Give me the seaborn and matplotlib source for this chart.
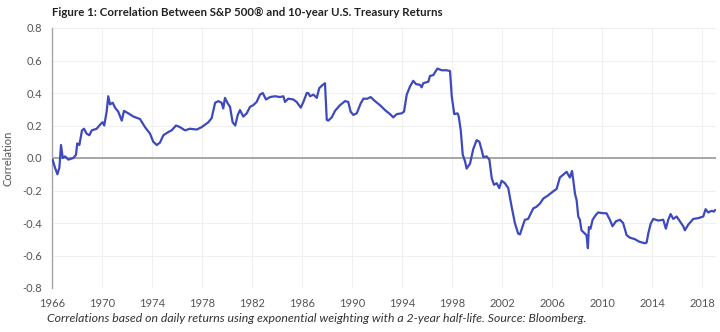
import matplotlib
matplotlib.use("Agg")
import matplotlib.pyplot as plt
import seaborn as sns
import numpy as np
import pandas as pd

years = [1966.05, 1966.24, 1966.43, 1966.59, 1966.72, 1966.86, 1967.04, 1967.31, 1967.70, 1967.92,
         1968.02, 1968.19, 1968.40, 1968.56, 1968.77, 1968.99, 1969.18, 1969.57, 1969.90, 1970.05,
         1970.18, 1970.37, 1970.50, 1970.64, 1970.86, 1971.04, 1971.30, 1971.58, 1971.76, 1972.10,
         1972.51, 1973.04, 1973.44, 1973.84, 1974.10, 1974.38, 1974.64, 1974.91, 1975.31, 1975.57,
         1975.92, 1976.24, 1976.64, 1977.03, 1977.58, 1977.97, 1978.51, 1978.77, 1979.05, 1979.31,
         1979.57, 1979.70, 1979.84, 1980.03, 1980.24, 1980.45, 1980.66, 1980.86, 1981.04, 1981.30,
         1981.58, 1981.84, 1982.10, 1982.37, 1982.64, 1982.86, 1983.12, 1983.44, 1983.84, 1984.24,
         1984.51, 1984.64, 1984.90, 1985.31, 1985.57, 1985.90, 1986.11, 1986.38, 1986.50, 1986.65,
         1986.91, 1987.18, 1987.38, 1987.66, 1987.84, 1987.98, 1988.10, 1988.38, 1988.64, 1989.04,
         1989.44, 1989.70, 1989.89, 1990.11, 1990.38, 1990.69, 1990.91, 1991.23, 1991.49, 1991.84,
         1992.24, 1992.64, 1993.04, 1993.30, 1993.58, 1993.97, 1994.16, 1994.38, 1994.64, 1994.90,
         1995.12, 1995.44, 1995.57, 1995.70, 1996.11, 1996.24, 1996.50, 1996.83, 1997.18, 1997.57,
         1997.84, 1997.98, 1998.18, 1998.44, 1998.54, 1998.70, 1998.86, 1999.04, 1999.17, 1999.44,
         1999.70, 1999.97, 2000.19, 2000.37, 2000.51, 2000.77, 2000.99, 2001.18, 2001.36, 2001.57,
         2001.78, 2001.97, 2002.23, 2002.50, 2002.77, 2003.03, 2003.29, 2003.44, 2003.65, 2003.83,
         2004.09, 2004.50, 2004.76, 2005.04, 2005.30, 2005.69, 2006.10, 2006.37, 2006.63, 2007.17,
         2007.43, 2007.60, 2007.70, 2007.84, 2007.97, 2008.10, 2008.23, 2008.36, 2008.63, 2008.76,
         2008.87, 2008.95, 2009.08, 2009.25, 2009.51, 2009.69, 2010.10, 2010.36, 2010.63, 2010.84,
         2011.11, 2011.43, 2011.69, 2011.97, 2012.23, 2012.64, 2012.98, 2013.44, 2013.57, 2013.70,
         2013.89, 2014.10, 2014.50, 2014.90, 2015.11, 2015.30, 2015.49, 2015.70, 2015.97, 2016.24,
         2016.50, 2016.63, 2016.90, 2017.30, 2017.70, 2018.10, 2018.29, 2018.50, 2018.77, 2018.95,
         2019.05]

correlation = [-0.01, -0.06, -0.10, -0.06, 0.08, 0.00, 0.01, -0.01, 0.00, 0.02,
               0.09, 0.08, 0.17, 0.18, 0.15, 0.14, 0.17, 0.18, 0.21, 0.22,
               0.20, 0.285, 0.38, 0.33, 0.34, 0.31, 0.285, 0.23, 0.29, 0.275,
               0.255, 0.24, 0.19, 0.15, 0.10, 0.08, 0.095, 0.14, 0.16, 0.17,
               0.20, 0.19, 0.17, 0.18, 0.175, 0.19, 0.22, 0.245, 0.34, 0.35,
               0.34, 0.305, 0.37, 0.34, 0.315, 0.22, 0.20, 0.265, 0.295, 0.255,
               0.275, 0.315, 0.325, 0.345, 0.39, 0.40, 0.36, 0.375, 0.38, 0.375,
               0.38, 0.345, 0.365, 0.36, 0.345, 0.31, 0.345, 0.40, 0.40, 0.38,
               0.39, 0.37, 0.43, 0.45, 0.46, 0.235, 0.23, 0.25, 0.29, 0.325,
               0.35, 0.345, 0.285, 0.265, 0.275, 0.335, 0.365, 0.365, 0.375, 0.35,
               0.325, 0.295, 0.27, 0.25, 0.27, 0.275, 0.285, 0.39, 0.44, 0.475,
               0.455, 0.45, 0.435, 0.46, 0.47, 0.505, 0.51, 0.55, 0.54, 0.54,
               0.535, 0.38, 0.27, 0.275, 0.255, 0.17, 0.02, -0.02, -0.065, -0.035,
               0.055, 0.11, 0.10, 0.05, 0.005, 0.01, -0.01, -0.125, -0.165, -0.155,
               -0.185, -0.14, -0.155, -0.185, -0.30, -0.40, -0.465, -0.47, -0.42, -0.38,
               -0.375, -0.31, -0.30, -0.28, -0.25, -0.23, -0.205, -0.19, -0.12, -0.085,
               -0.12, -0.08, -0.135, -0.22, -0.26, -0.36, -0.38, -0.445, -0.465, -0.475,
               -0.555, -0.425, -0.435, -0.38, -0.35, -0.335, -0.34, -0.34, -0.38, -0.42,
               -0.39, -0.38, -0.40, -0.475, -0.49, -0.50, -0.515, -0.525, -0.52, -0.465,
               -0.405, -0.375, -0.385, -0.38, -0.435, -0.38, -0.345, -0.375, -0.36, -0.39,
               -0.42, -0.445, -0.41, -0.375, -0.37, -0.36, -0.315, -0.335, -0.325, -0.33,
               -0.32]

x_ticks = list(range(1966, 2019, 4))
y_ticks = [0.8, 0.6, 0.4, 0.2, 0.0, -0.2, -0.4, -0.6, -0.8]

title = "Figure 1: Correlation Between S&P 500\u00ae and 10-year U.S. Treasury Returns"
caption = ("Correlations based on daily returns using exponential weighting with a "
           "2-year half-life. Source: Bloomberg.")

sns.set_theme(style="white")
plt.rcParams['font.family'] = ['Lato', 'DejaVu Sans']

df = pd.DataFrame({"Year": years, "Correlation": correlation})

fig = plt.figure(figsize=(7.2, 3.32), dpi=100)
ax = fig.add_axes([52/720, 1 - 288/332, (716 - 52)/720, (288 - 28)/332])

ax.set_xlim(1966, 2019.12)
ax.set_ylim(-0.8, 0.8)
ax.set_xticks(x_ticks)
ax.set_yticks(y_ticks)
ax.set_yticklabels([f"{v:.1f}" for v in y_ticks])

for t in x_ticks:
    ax.axvline(t, color="#f0f0f0", lw=0.8, zorder=0)
for v in y_ticks:
    ax.axhline(v, color="#f0f0f0", lw=0.8, zorder=0)
ax.axhline(0, color="#a6a6a6", lw=1.4, zorder=1)

sns.lineplot(data=df, x="Year", y="Correlation", ax=ax, color="#3d49bd",
             linewidth=1.6, zorder=3)

for s in ["top", "right", "bottom"]:
    ax.spines[s].set_visible(False)
ax.spines["left"].set_color("#a6a6a6")
ax.spines["left"].set_linewidth(1.0)

ax.tick_params(axis="y", length=0, pad=7, labelsize=8, labelcolor="#555555")
ax.tick_params(axis="x", length=0, pad=7, labelsize=8, labelcolor="#555555")
ax.set_xlabel("")
ax.set_ylabel("Correlation", fontsize=8, color="#555555")
ax.yaxis.set_label_coords(-0.058, 0.5)

fig.text(52/720, 1 - 12/332, title, fontsize=8.3, fontweight="bold", color="#222222",
         ha="left", va="center")
fig.text(47/720, 1 - 318/332, caption, fontsize=8.8, style="italic", color="#333333",
         ha="left", va="center")

fig.savefig("out.png", dpi=100)
